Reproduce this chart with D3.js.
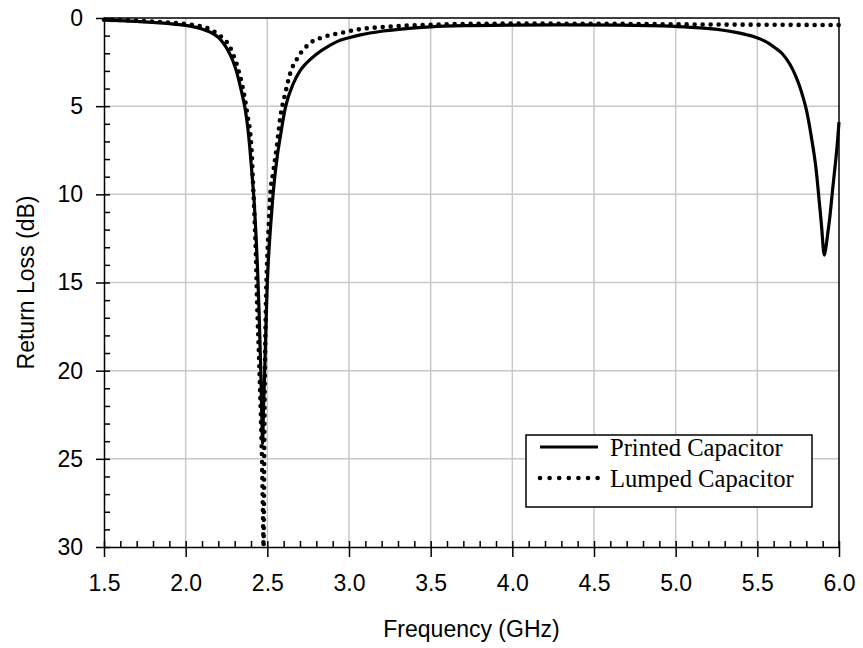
<!DOCTYPE html>
<html>
<head>
<meta charset="utf-8">
<script src="https://cdn.jsdelivr.net/npm/d3@7"></script>
<style>
  body { margin: 0; background: #fff; }
  svg text { font-family: "Liberation Sans", Arial, sans-serif; }
</style>
</head>
<body>
<svg id="chart"></svg>
<script>
// chart size
const width = 863;
const height = 648;
const margin = { top: 18, right: 24, bottom: 101, left: 104 };

// DATA
const xTicks = [1.5, 2.0, 2.5, 3.0, 3.5, 4.0, 4.5, 5.0, 5.5, 6.0];
const yTicks = [0, 5, 10, 15, 20, 25, 30];

// Printed capacitor (solid)
const freqPrinted = [
  1.50, 1.60, 1.70, 1.80, 1.90, 2.00, 2.05, 2.10, 2.15, 2.20,
  2.23, 2.26, 2.29, 2.31, 2.33, 2.35, 2.365, 2.38, 2.395, 2.41,
  2.42, 2.43, 2.44, 2.45, 2.46, 2.465, 2.471, 2.477, 2.484, 2.493,
  2.50, 2.505, 2.52, 2.535, 2.56, 2.58, 2.61, 2.66, 2.70, 2.74,
  2.80, 2.87, 2.95, 3.00, 3.07, 3.20, 3.35, 3.50, 3.75, 4.00,
  4.30, 4.66, 5.00, 5.15, 5.28, 5.36, 5.44, 5.52, 5.57, 5.61,
  5.65, 5.68, 5.71, 5.735, 5.76, 5.78, 5.80, 5.83, 5.86, 5.88,
  5.895, 5.905, 5.91, 5.92, 5.93, 5.945, 5.96, 5.975, 5.99, 6.00
];
const rlPrinted = [
  0.12, 0.15, 0.19, 0.25, 0.32, 0.42, 0.50, 0.62, 0.80, 1.10,
  1.42, 1.85, 2.45, 3.0, 3.7, 4.5, 5.2, 6.2, 7.6, 9.3,
  10.5, 12.2, 14.2, 16.8, 20.0, 22.0, 24.1, 22.0, 20.0, 17.0,
  15.0, 14.0, 11.8, 10.0, 7.9, 6.7, 5.1, 3.7, 3.0, 2.55,
  2.05, 1.62, 1.25, 1.12, 0.96, 0.75, 0.60, 0.50, 0.43, 0.40,
  0.39, 0.40, 0.48, 0.56, 0.68, 0.80, 0.96, 1.20, 1.44, 1.70,
  2.0, 2.35, 2.8, 3.3, 3.9, 4.5, 5.2, 6.7, 8.6, 10.5,
  12.0, 13.2, 13.45, 13.0, 12.3, 11.2, 9.8, 8.5, 7.1, 5.9
];

// Lumped capacitor (dotted)
const freqLumped = [
  1.50, 1.60, 1.70, 1.82, 1.90, 2.00, 2.05, 2.10, 2.15, 2.19,
  2.22, 2.25, 2.27, 2.29, 2.31, 2.323, 2.344, 2.364, 2.38, 2.396,
  2.406, 2.412, 2.42, 2.43, 2.437, 2.45, 2.46, 2.467, 2.472, 2.477,
  2.480, 2.483, 2.488, 2.493, 2.50, 2.51, 2.518, 2.535, 2.558, 2.58,
  2.61, 2.64, 2.69, 2.76, 2.85, 2.95, 3.05, 3.25, 3.50, 4.00,
  4.60, 5.00, 5.50, 6.00
];
const rlLumped = [
  0.10, 0.12, 0.15, 0.21, 0.26, 0.34, 0.40, 0.49, 0.64, 0.87,
  1.08, 1.34, 1.62, 2.05, 2.55, 2.95, 3.7, 4.65, 5.6, 6.6,
  7.9, 9.3, 11.0, 13.5, 16.0, 19.5, 22.5, 25.0, 27.5, 30.0,
  26.0, 22.0, 18.0, 15.5, 13.5, 11.5, 10.0, 8.8, 7.3, 5.6,
  4.27, 3.14, 2.19, 1.44, 1.06, 0.85, 0.66, 0.49, 0.38, 0.32,
  0.33, 0.36, 0.38, 0.40
];

const legendNames = ["Printed Capacitor", "Lumped Capacitor"];

const printed = freqPrinted.map((f, i) => ({ f: f, v: rlPrinted[i] }));
const lumped = freqLumped.map((f, i) => ({ f: f, v: rlLumped[i] }));

const svg = d3.select("#chart").attr("width", width).attr("height", height);

const x = d3.scaleLinear().domain([1.5, 6.0]).range([margin.left, width - margin.right]);
const y = d3.scaleLinear().domain([0, 30]).range([margin.top, height - margin.bottom]);

// gridlines
svg.append("g")
  .selectAll("line")
  .data(xTicks.slice(1, -1))
  .enter()
  .append("line")
  .attr("x1", (d) => x(d)).attr("x2", (d) => x(d))
  .attr("y1", y(0)).attr("y2", y(30))
  .attr("stroke", "#c8c8c8").attr("stroke-width", 1.5);

svg.append("g")
  .selectAll("line")
  .data(yTicks.slice(1, -1))
  .enter()
  .append("line")
  .attr("x1", x(1.5)).attr("x2", x(6.0))
  .attr("y1", (d) => y(d)).attr("y2", (d) => y(d))
  .attr("stroke", "#c8c8c8").attr("stroke-width", 1.5);

// frame (top and right)
svg.append("path")
  .attr("d", `M${x(1.5)},${y(0)}H${x(6.0)}V${y(30)}`)
  .attr("fill", "none").attr("stroke", "#000").attr("stroke-width", 1.5);

// minor ticks (inside)
const xMinor = d3.range(15, 61).map((d) => d / 10);
const yMinor = d3.range(0, 31);

svg.append("g")
  .attr("transform", `translate(0, ${y(30)})`)
  .call(d3.axisTop(x).tickValues(xMinor).tickSize(6).tickFormat(""))
  .call((g) => g.select(".domain").remove())
  .selectAll("line").attr("stroke-width", 1.5);

svg.append("g")
  .attr("transform", `translate(${x(1.5)}, 0)`)
  .call(d3.axisRight(y).tickValues(yMinor).tickSize(6).tickFormat(""))
  .call((g) => g.select(".domain").remove())
  .selectAll("line").attr("stroke-width", 1.5);

// major axes
const xAxis = svg.append("g")
  .attr("transform", `translate(0, ${y(30)})`)
  .call(d3.axisBottom(x).tickValues(xTicks).tickSizeInner(10).tickSizeOuter(0).tickPadding(18).tickFormat(d3.format(".1f")));

const yAxis = svg.append("g")
  .attr("transform", `translate(${x(1.5)}, 0)`)
  .call(d3.axisLeft(y).tickValues(yTicks).tickSizeInner(8).tickSizeOuter(0).tickPadding(13).tickFormat(d3.format("d")));

[xAxis, yAxis].forEach((g) => {
  g.select(".domain").attr("stroke-width", 1.5);
  g.selectAll(".tick line").attr("stroke-width", 1.5);
  g.selectAll("text")
    .style("font-family", '"Liberation Sans", Arial, sans-serif')
    .style("font-size", "23px")
    .attr("fill", "#000");
});

// axis titles
svg.append("text")
  .attr("x", (x(1.5) + x(6.0)) / 2)
  .attr("y", 637)
  .attr("text-anchor", "middle")
  .style("font-size", "23px")
  .text("Frequency (GHz)");

svg.append("text")
  .attr("transform", `translate(34, ${y(15)}) rotate(-90)`)
  .attr("text-anchor", "middle")
  .style("font-size", "23px")
  .text("Return Loss (dB)");

// curves
const line = d3.line()
  .x((d) => x(d.f))
  .y((d) => y(d.v))
  .curve(d3.curveMonotoneX);

svg.append("path")
  .datum(printed)
  .attr("d", line)
  .attr("fill", "none")
  .attr("stroke", "#000")
  .attr("stroke-width", 3.2);

svg.append("path")
  .datum(lumped)
  .attr("d", line)
  .attr("fill", "none")
  .attr("stroke", "#000")
  .attr("stroke-width", 4.6)
  .attr("stroke-linecap", "round")
  .attr("stroke-dasharray", "0 8");

// LEGEND
const legend = svg.append("g").attr("transform", "translate(526, 435)");

legend.append("rect")
  .attr("width", 286).attr("height", 72)
  .attr("fill", "#fff").attr("stroke", "#000").attr("stroke-width", 1.5);

legendNames.forEach((name, i) => {
  const ly = 12 + i * 31;
  legend.append("line")
    .attr("x1", 14).attr("x2", 72)
    .attr("y1", ly).attr("y2", ly)
    .attr("stroke", "#000")
    .attr("stroke-width", i === 0 ? 3.2 : 4.6)
    .attr("stroke-linecap", i === 0 ? "butt" : "round")
    .attr("stroke-dasharray", i === 0 ? null : "0 9.6");
  legend.append("text")
    .attr("x", 84)
    .attr("y", ly + 9)
    .style("font-family", '"Liberation Serif", "Times New Roman", serif')
    .style("font-size", "24.6px")
    .text(name);
});
</script>
</body>
</html>
